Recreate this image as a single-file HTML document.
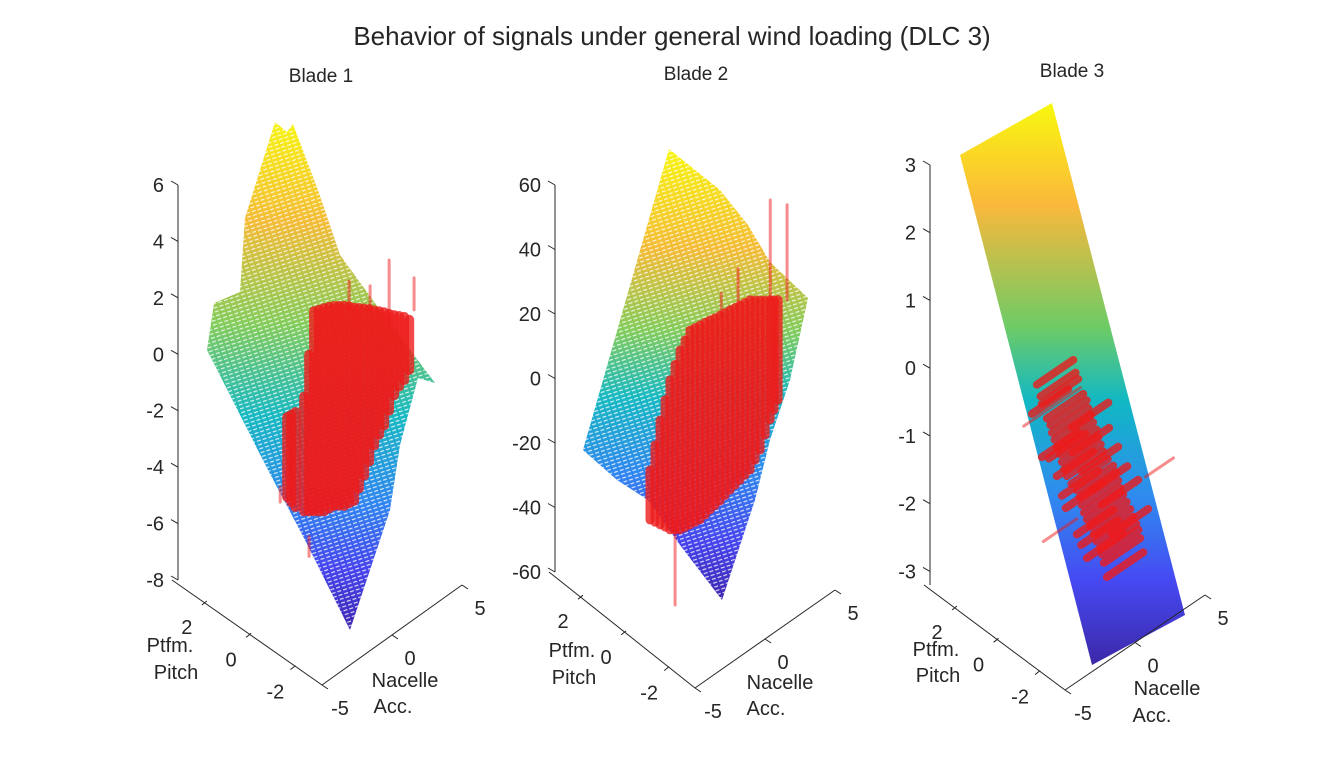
<!DOCTYPE html>
<html><head><meta charset="utf-8"><style>
html,body{margin:0;padding:0;background:#fff;}
svg{display:block;font-family:"Liberation Sans",sans-serif;}
text{fill:#262626;}
</style></head><body>
<svg id="fig" width="1344" height="768" viewBox="0 0 1344 768" xmlns="http://www.w3.org/2000/svg">
<defs>
<linearGradient id="g1" gradientUnits="userSpaceOnUse" x1="0" y1="120" x2="0" y2="630">
<stop offset="0" stop-color="#f7f50f"/><stop offset="0.2" stop-color="#f4bb36"/><stop offset="0.4" stop-color="#83cc5a"/><stop offset="0.58" stop-color="#17b9c2"/><stop offset="0.75" stop-color="#2f86f0"/><stop offset="0.88" stop-color="#4644ee"/><stop offset="1" stop-color="#3e27b0"/></linearGradient>
<linearGradient id="g2" gradientUnits="userSpaceOnUse" x1="0" y1="150" x2="0" y2="600">
<stop offset="0" stop-color="#f7f50f"/><stop offset="0.22" stop-color="#f4bb36"/><stop offset="0.4" stop-color="#83cc5a"/><stop offset="0.55" stop-color="#17b9c2"/><stop offset="0.72" stop-color="#2f86f0"/><stop offset="0.87" stop-color="#4644ee"/><stop offset="1" stop-color="#3e27b0"/></linearGradient>
<linearGradient id="g3" gradientUnits="userSpaceOnUse" x1="0" y1="103" x2="0" y2="665">
<stop offset="0" stop-color="#f8f80e"/><stop offset="0.18" stop-color="#fbb83b"/><stop offset="0.4" stop-color="#6dcb66"/><stop offset="0.53" stop-color="#11b8c4"/><stop offset="0.7" stop-color="#2f8bef"/><stop offset="0.85" stop-color="#4649f2"/><stop offset="1" stop-color="#3c28a8"/></linearGradient>
<pattern id="mesh" width="6" height="4" patternUnits="userSpaceOnUse" patternTransform="rotate(-18)">
<rect x="0" y="2.5" width="4" height="1.2" fill="#fff" opacity="0.8"/></pattern>
</defs>
<text x="672" y="45" font-size="26" text-anchor="middle">Behavior of signals under general wind loading (DLC 3)</text>
<g id="layer"></g>
</svg>
<script>
// ---- data ----
const zTicks1 = [6,4,2,0,-2,-4,-6,-8];
const zTicks2 = [60,40,20,0,-20,-40,-60];
const zTicks3 = [3,2,1,0,-1,-2,-3];
const pitchTicks = [2,0,-2];
const nacTicks = [-5,0,5];
// Blade 1 streaks: [nacelle, pitch, zLow, zHigh]
const streaks1 = [[-0.84,1,-5.22,-2.38],[-0.55,1,-5.5,-2.4],[-0.26,1,-5.78,-2.41],[-1.21,0,-5.02,-0.95],[-0.85,0,-5.15,0.4],[-0.5,0,-5.27,1.82],[-0.15,0,-5.4,1.75],[0.21,0,-5.52,1.68],[0.57,0,-5.55,1.6],[0.93,0,-5.59,1.5],[1.28,0,-5.7,1.38],[1.64,0,-5.84,1.25],[2.0,0,-5.87,1.1],[2.36,0,-5.91,0.93],[2.7,0,-5.6,0.8],[3.07,0,-5.27,0.65],[3.43,0,-4.9,0.5],[3.79,0,-4.46,0.33],[4.15,0,-4.2,0.17],[4.5,0,-4.0,0.01],[4.85,0,-3.6,-0.17],[5.21,0,-3.18,-0.34],[5.57,0,-3.0,-0.5],[5.93,0,-2.9,-0.66],[6.29,0,-2.67,-0.89]];
const thin1 = [[4.86,0,-0.57,1.73],[6.64,0,-0.66,0.47],[-1.34,1,-5.22,-4.69],[-0.86,0,-6.74,-6.04],[3.5,0,0.4,1.3],[2.0,0,1.0,2.0]];
// Blade 2 streaks: [nacelle, pitch, zLow, zHigh]
const streaks2 = [[-3.29,0,-30.8,-15.3],[-2.93,0,-32.6,-8.6],[-2.57,0,-34.5,-2.0],[-2.21,0,-36.3,3.2],[-1.86,0,-38.2,8.3],[-1.5,0,-39.3,12],[-1.14,0,-40.4,15.4],[-0.78,0,-40.7,17.4],[-0.43,0,-41.0,19.4],[-0.07,0,-41.3,19.1],[0.29,0,-41.6,18.8],[0.65,0,-41.2,18.5],[1,0,-40.7,18.2],[1.35,0,-40.4,17.8],[1.71,0,-40.1,17.5],[2.07,0,-39.5,17.2],[2.43,0,-38.9,17.0],[2.79,0,-38.5,16.6],[3.14,0,-38.0,16.3],[3.5,0,-37.5,16.0],[3.86,0,-37.0,15.7],[4.21,0,-35,14.6],[4.57,0,-33.0,13.5],[4.93,0,-29.4,12.4],[5.29,0,-25.8,11.4],[5.57,0,-23.6,10.5],[5.86,0,-21.4,9.7]];
const thin2 = [[5.3,0,11.3,42.3],[6.5,0,7.7,37.2],[-1.5,0,-62.6,-36.2],[3.0,0,16,28],[1.8,0,17,24]];
// Blade 3 streaks: [nacelle1, nacelle2, pitch, z]
const streaks3 = [[-2.26,0.34,0,0.16],[-1.91,0.69,0,-0.17],[-1.55,1.05,0,-0.44],[-1.19,1.41,0,-0.70],[-0.84,1.76,0,-0.96],[-0.48,2.12,0,-1.23],[-0.12,2.48,0,-1.49],[0.59,3.19,0,-1.80],[0.95,3.55,0,-2.07],[1.31,3.91,0,-2.33],[1.81,4.41,0,-2.61],[2.24,4.84,0,-2.89],[2.52,5.12,0,-3.14],[2.74,5.34,0,-3.38],[-2.62,-0.02,0,-0.22],[0.24,2.84,0,-0.82],[-1.91,0.69,0,-0.96],[0.95,3.55,0,-1.57],[-0.48,2.12,0,-1.73],[2.38,4.98,0,-2.26],[0.59,3.19,0,-2.45],[3.09,5.69,0,-2.79],[1.31,3.91,0,-2.90],[-0.84,1.76,0,-1.39],[-2.0,0.5,0,-0.05],[-1.3,1.3,0,-0.57],[-1.0,1.6,0,-0.83],[-0.6,2.0,0,-1.1],[-0.3,2.3,0,-1.36],[0.2,2.8,0,-1.65],[0.8,3.4,0,-1.93],[1.1,3.7,0,-2.2],[1.55,4.15,0,-2.47],[2.0,4.6,0,-2.75],[2.4,5.0,0,-3.0],[-1.4,1.2,0,-1.05],[0.3,2.9,0,-1.2],[-0.2,2.4,0,-1.95],[1.6,4.2,0,-1.95],[0.9,3.5,0,-2.65]];
const thin3 = [[-3.2,0.85,0,-0.32],[5.5,7.5,0,-2.29],[-1.8,0.6,0,-2.22]];
// ---- axes geometry ----
const axesDefs = [
 {name:'blade-1',title:'Blade 1',tx:321,ty:82,back:[178,580],corner:[322,685],end:[462,585],zMin:-8,zMax:6,zTopY:185,zTicks:zTicks1,streaks:streaks1,thin:thin1,type:'v',sw:10,
  surf:[[207,350],[214,303],[240,292],[245,218],[275,122],[287,132],[293,124],[318,190],[340,255],[380,310],[435,383],[418,378],[400,445],[390,510],[350,630],[305,540],[268,470]],fill:'url(#g1)',mesh:true,
  pl:[[170,652],[176,679]],nl:[[405,687],[393,713]]},
 {name:'blade-2',title:'Blade 2',tx:696,ty:80,back:[555,572],corner:[695,688],end:[835,590],zMin:-60,zMax:60,zTopY:185,zTicks:zTicks2,streaks:streaks2,thin:thin2,type:'v',sw:9,
  surf:[[583,450],[669,149],[720,190],[748,225],[770,262],[808,298],[790,380],[770,440],[755,500],[722,600],[680,545],[648,500],[617,480]],fill:'url(#g2)',mesh:true,
  pl:[[572,657],[574,684]],nl:[[780,689],[766,715]]},
 {name:'blade-3',title:'Blade 3',tx:1072,ty:77,back:[930,585],corner:[1065,690],end:[1205,595],zMin:-3.2,zMax:3,zTopY:165,zTicks:zTicks3,streaks:streaks3,thin:thin3,type:'h',sw:8,
  surf:[[960,155],[1052,103],[1185,615],[1092,665]],fill:'url(#g3)',mesh:false,
  pl:[[936,656],[938,682]],nl:[[1167,695],[1152,722]]}
];
const NS='http://www.w3.org/2000/svg';
const layer=document.getElementById('layer');
function mk(tag,attrs,parent){const e=document.createElementNS(NS,tag);for(const k in attrs)e.setAttribute(k,attrs[k]);(parent||layer).appendChild(e);return e;}
axesDefs.forEach(a=>{
  const g=mk('g',{});
  
  
  const zs=(a.back[1]-a.zTopY)/(a.zMax-a.zMin);
  function floorPt(n,p){const t=(3.3-p)/6.5,u=(n+5)/10;
    return [a.back[0]+t*(a.corner[0]-a.back[0])+u*(a.end[0]-a.corner[0]), a.back[1]+t*(a.corner[1]-a.back[1])+u*(a.end[1]-a.corner[1])];}
  function proj(n,p,z){const f=floorPt(n,p);return [f[0],f[1]-(z-a.zMin)*zs];}
  function zY(z){return a.back[1]-(z-a.zMin)*zs;}
  const s=mk('polygon',{points:a.surf.map(q=>q.join(',')).join(' '),fill:a.fill},g);
  
  
  if(a.mesh){const m=mk('polygon',{points:a.surf.map(q=>q.join(',')).join(' '),fill:'url(#mesh)'},g);
    
    }
  const sg=mk('g',{stroke:'#ee1a1a','stroke-linecap':'round'},g);
  
  
  function seg(d){
    if(a.type==='v')return [proj(d[0],d[1],d[2]),proj(d[0],d[1],d[3])];
    return [proj(d[0],d[2],d[3]),proj(d[1],d[2],d[3])];}
  a.streaks.forEach(d=>{const q=seg(d);
    const l=mk('line',{x1:q[0][0],y1:q[0][1],x2:q[1][0],y2:q[1][1],'stroke-width':a.sw,'stroke-opacity':0.8},sg);
    
    
  });
  a.thin.forEach(d=>{const q=seg(d);
    const l=mk('line',{x1:q[0][0],y1:q[0][1],x2:q[1][0],y2:q[1][1],'stroke-width':3,'stroke-opacity':0.5},sg);
    
    
  });
  const ax=mk('line',{x1:a.back[0],y1:zY(a.zMax),x2:a.back[0],y2:a.back[1],stroke:'#262626','stroke-width':1},g);
  
  
  a.zTicks.forEach(v=>{const y=zY(v);
    mk('line',{x1:a.back[0]-7,y1:y-4,x2:a.back[0],y2:y,stroke:'#262626'},g);
    const t=mk('text',{x:a.back[0]-14,y:y+7,'font-size':20,'text-anchor':'end'},g);t.textContent=v;
    
    });
  const pa=mk('line',{x1:a.back[0]-6,y1:a.back[1],x2:a.corner[0],y2:a.corner[1],stroke:'#262626'},g);
  
  
  const na=mk('line',{x1:a.corner[0],y1:a.corner[1],x2:a.end[0],y2:a.end[1],stroke:'#262626'},g);
  
  
  pitchTicks.forEach(v=>{const f=floorPt(-5,v);
    mk('line',{x1:f[0],y1:f[1],x2:f[0]-5,y2:f[1]+4,stroke:'#262626'},g);
    const t=mk('text',{x:f[0]-20,y:f[1]+33,'font-size':20,'text-anchor':'middle'},g);t.textContent=v;
    
    });
  nacTicks.forEach(v=>{const f=floorPt(v,-3.2);
    mk('line',{x1:f[0],y1:f[1],x2:f[0]+6,y2:f[1]+4,stroke:'#262626'},g);
    const t=mk('text',{x:f[0]+18,y:f[1]+30,'font-size':20,'text-anchor':'middle'},g);t.textContent=v;
    
    });
  const l1=mk('text',{x:a.pl[0][0],y:a.pl[0][1],'font-size':20,'text-anchor':'middle'},g);l1.textContent='Ptfm.';
  
  
  const l2=mk('text',{x:a.pl[1][0],y:a.pl[1][1],'font-size':20,'text-anchor':'middle'},g);l2.textContent='Pitch';
  
  
  const l3=mk('text',{x:a.nl[0][0],y:a.nl[0][1],'font-size':20,'text-anchor':'middle'},g);l3.textContent='Nacelle';
  
  
  const l4=mk('text',{x:a.nl[1][0],y:a.nl[1][1],'font-size':20,'text-anchor':'middle'},g);l4.textContent='Acc.';
  
  
  const tt=mk('text',{x:a.tx,y:a.ty,'font-size':19,'text-anchor':'middle'},g);tt.textContent=a.title;
  
  
});
</script>
</body></html>
